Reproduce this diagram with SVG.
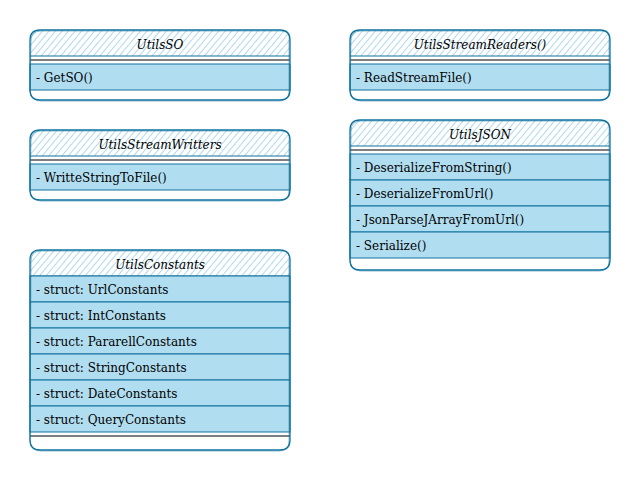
<svg xmlns="http://www.w3.org/2000/svg" width="641" height="481" viewBox="0 0 641 481">
<defs>
<pattern id="hatch" patternUnits="userSpaceOnUse" width="5" height="5" patternTransform="rotate(-50)">
<line x1="0" y1="2.5" x2="5" y2="2.5" stroke="#a6d5ec" stroke-width="0.9"/>
</pattern>
<style>
.hdr{fill:url(#hatch);stroke:none}
.row{fill:#b1ddf0;stroke:#10739e;stroke-width:1}
.out{fill:none;stroke:#10739e;stroke-width:1.3;stroke-linejoin:round}
.out2{fill:none;stroke:#10739e;stroke-width:0.8;stroke-opacity:0.6}
.sep{stroke:#10739e;stroke-width:1.2}
.div{stroke:#000;stroke-width:1.2}
.t{font-family:"DejaVu Serif","Liberation Serif",serif;font-size:12px;fill:#000}
.ti{font-family:"DejaVu Serif","Liberation Serif",serif;font-size:12px;font-style:italic;fill:#000;text-anchor:middle}
</style>
</defs>
<rect width="641" height="481" fill="#fff"/>

<g id="UtilsSO">
<path class="hdr" d="M30,56 V40 Q30,30 40,30 H280 Q290,30 290,40 V56 Z"/>
<line class="sep" x1="30" y1="56" x2="290" y2="56"/>
<line class="div" x1="30" y1="60" x2="290" y2="60"/>
<rect class="row" x="30" y="64" width="260" height="26"/>
<path class="out" d="M30,40 Q30,30 40,30 H280 Q290,30 290,40 V90 Q290,100 280,100 H40 Q30,100 30,90 Z"/>
<path class="out2" d="M31,41 Q31,31 41,31 H281 Q291,31 289,41 V91 Q289,101 279,101 H41 Q31,101 30,91 Z"/>
<text class="ti" x="160" y="49">UtilsSO</text>
<text class="t" x="36" y="82">- GetSO()</text>
</g>

<g id="UtilsStreamWritters">
<path class="hdr" d="M30,156 V140 Q30,130 40,130 H280 Q290,130 290,140 V156 Z"/>
<line class="sep" x1="30" y1="156" x2="290" y2="156"/>
<line class="div" x1="30" y1="160" x2="290" y2="160"/>
<rect class="row" x="30" y="164" width="260" height="26"/>
<path class="out" d="M30,140 Q30,130 40,130 H280 Q290,130 290,140 V190 Q290,200 280,200 H40 Q30,200 30,190 Z"/>
<path class="out2" d="M31,141 Q31,131 41,131 H281 Q291,131 289,141 V191 Q289,201 279,201 H41 Q31,201 30,191 Z"/>
<text class="ti" x="160" y="149">UtilsStreamWritters</text>
<text class="t" x="36" y="182">- WritteStringToFile()</text>
</g>

<g id="UtilsConstants">
<path class="hdr" d="M30,276 V260 Q30,250 40,250 H280 Q290,250 290,260 V276 Z"/>
<line class="sep" x1="30" y1="276" x2="290" y2="276"/>
<rect class="row" x="30" y="276" width="260" height="26"/>
<rect class="row" x="30" y="302" width="260" height="26"/>
<rect class="row" x="30" y="328" width="260" height="26"/>
<rect class="row" x="30" y="354" width="260" height="26"/>
<rect class="row" x="30" y="380" width="260" height="26"/>
<rect class="row" x="30" y="406" width="260" height="26"/>
<line class="div" x1="30" y1="436" x2="290" y2="436"/>
<path class="out" d="M30,260 Q30,250 40,250 H280 Q290,250 290,260 V440 Q290,450 280,450 H40 Q30,450 30,440 Z"/>
<path class="out2" d="M31,261 Q31,251 41,251 H281 Q291,251 289,261 V441 Q289,451 279,451 H41 Q31,451 30,441 Z"/>
<text class="ti" x="160" y="269">UtilsConstants</text>
<text class="t" x="36" y="294">- struct: UrlConstants</text>
<text class="t" x="36" y="320">- struct: IntConstants</text>
<text class="t" x="36" y="346">- struct: PararellConstants</text>
<text class="t" x="36" y="372">- struct: StringConstants</text>
<text class="t" x="36" y="398">- struct: DateConstants</text>
<text class="t" x="36" y="424">- struct: QueryConstants</text>
</g>

<g id="UtilsStreamReaders">
<path class="hdr" d="M350,56 V40 Q350,30 360,30 H600 Q610,30 610,40 V56 Z"/>
<line class="sep" x1="350" y1="56" x2="610" y2="56"/>
<line class="div" x1="350" y1="60" x2="610" y2="60"/>
<rect class="row" x="350" y="64" width="260" height="26"/>
<path class="out" d="M350,40 Q350,30 360,30 H600 Q610,30 610,40 V90 Q610,100 600,100 H360 Q350,100 350,90 Z"/>
<path class="out2" d="M351,41 Q351,31 361,31 H601 Q611,31 609,41 V91 Q609,101 599,101 H361 Q351,101 350,91 Z"/>
<text class="ti" x="480" y="49">UtilsStreamReaders()</text>
<text class="t" x="356" y="82">- ReadStreamFile()</text>
</g>

<g id="UtilsJSON">
<path class="hdr" d="M350,146 V130 Q350,120 360,120 H600 Q610,120 610,130 V146 Z"/>
<line class="sep" x1="350" y1="146" x2="610" y2="146"/>
<line class="div" x1="350" y1="150" x2="610" y2="150"/>
<rect class="row" x="350" y="154" width="260" height="26"/>
<rect class="row" x="350" y="180" width="260" height="26"/>
<rect class="row" x="350" y="206" width="260" height="26"/>
<rect class="row" x="350" y="232" width="260" height="26"/>
<path class="out" d="M350,130 Q350,120 360,120 H600 Q610,120 610,130 V260 Q610,270 600,270 H360 Q350,270 350,260 Z"/>
<path class="out2" d="M351,131 Q351,121 361,121 H601 Q611,121 609,131 V261 Q609,271 599,271 H361 Q351,271 350,261 Z"/>
<text class="ti" x="480" y="139">UtilsJSON</text>
<text class="t" x="356" y="172">- DeserializeFromString()</text>
<text class="t" x="356" y="198">- DeserializeFromUrl()</text>
<text class="t" x="356" y="224">- JsonParseJArrayFromUrl()</text>
<text class="t" x="356" y="250">- Serialize()</text>
</g>

<g id="connectors"></g>
</svg>
